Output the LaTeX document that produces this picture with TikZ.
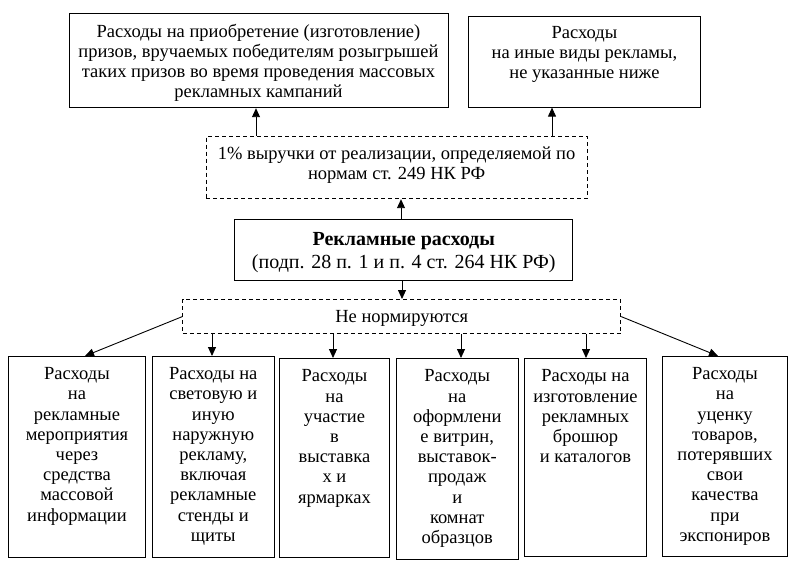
\documentclass[tikz,border=0pt]{standalone}
\usepackage{fontspec}
\setmainfont{Liberation Serif}
\usetikzlibrary{arrows.meta}
\newcommand{\tb}[4]{\parbox[c][#2][t]{#1}{\centering\rule{0pt}{#3}#4\par}}
\tikzset{
  box/.style={draw, line width=0.9pt, inner sep=0pt, rectangle, anchor=north west,
    font=\fontsize{18.5pt}{20.2pt}\selectfont},
  dbox/.style={box, dash pattern=on 4pt off 3pt},
  arr/.style={-{Triangle[length=9pt,width=8pt]}, line width=0.9pt},
}
\begin{document}
\begin{tikzpicture}[x=1pt,y=-1pt]
\useasboundingbox (0,0) rectangle (799,569);
% top
\node[box] (tl) at (68.5,13.3) {\tb{379pt}{94pt}{23.5pt}{Расходы на приобретение (изготовление)\\ призов, вручаемых победителям розыгрышей\\ таких призов во время проведения массовых\\ рекламных кампаний}};
\node[box] (tr) at (468,15.7) {\tb{232pt}{91pt}{22pt}{Расходы\\ на иные виды рекламы,\\ не указанные ниже}};
\node[dbox] (pct) at (205.7,135.7) {\tb{381pt}{62.6pt}{23.6pt}{1\% выручки от реализации, определяемой по\\ нормам ст. 249 НК РФ}};
\node[box, font=\fontsize{20pt}{23.3pt}\selectfont] (main) at (234.3,219.3) {\tb{338pt}{60.7pt}{25.7pt}{\textbf{Рекламные расходы}\\ (подп. 28 п. 1 и п. 4 ст. 264 НК РФ)}};
\node[dbox] (nn) at (182.3,299) {\tb{438pt}{34.3pt}{22.7pt}{Не нормируются}};
% bottom
\node[box] (b1) at (8.3,356) {\tb{136.5pt}{201pt}{23.3pt}{Расходы\\на\\рекламные\\мероприятия\\через\\средства\\массовой\\информации}};
\node[box] (b2) at (151.7,356) {\tb{122.3pt}{201pt}{23.3pt}{Расходы на\\световую и\\иную\\наружную\\рекламу,\\включая\\рекламные\\стенды и\\щиты}};
\node[box] (b3) at (279,358) {\tb{110pt}{199pt}{23.5pt}{Расходы\\на\\участие\\в\\выставка\\х и\\ярмарках}};
\node[box] (b4) at (396,358) {\tb{121.5pt}{201pt}{23.5pt}{Расходы\\на\\оформлени\\е витрин,\\выставок-\\продаж\\и\\комнат\\образцов}};
\node[box] (b5) at (524,358) {\tb{122pt}{198pt}{23.5pt}{Расходы на\\изготовление\\рекламных\\брошюр\\и каталогов}};
\node[box] (b6) at (662,356) {\tb{125pt}{200pt}{23.3pt}{Расходы\\на\\уценку\\товаров,\\потерявших\\свои\\качества\\при\\экспониров}};
% connector columns
\coordinate (xa) at (256,0);
\coordinate (xb) at (552,0);
\coordinate (xc) at (401,0);
\coordinate (xd) at (402,0);
\coordinate (xe) at (85,0);
\coordinate (xf) at (718,0);
\coordinate (x2) at (212,0);
\coordinate (x3) at (333,0);
\coordinate (x4) at (461,0);
\coordinate (x5) at (586,0);
% connectors
\draw[arr] (pct.north -| xa) -- (tl.south -| xa);
\draw[arr] (pct.north -| xb) -- (tr.south -| xb);
\draw[arr] (main.north -| xc) -- (pct.south -| xc);
\draw[arr] (main.south -| xd) -- (nn.north -| xd);
\draw[arr] (nn.west) -- (b1.north -| xe);
\draw[arr] (nn.east) -- (b6.north -| xf);
\draw[arr] (nn.south -| x2) -- (b2.north -| x2);
\draw[arr] (nn.south -| x3) -- (b3.north -| x3);
\draw[arr] (nn.south -| x4) -- (b4.north -| x4);
\draw[arr] (nn.south -| x5) -- (b5.north -| x5);
\end{tikzpicture}
\end{document}
